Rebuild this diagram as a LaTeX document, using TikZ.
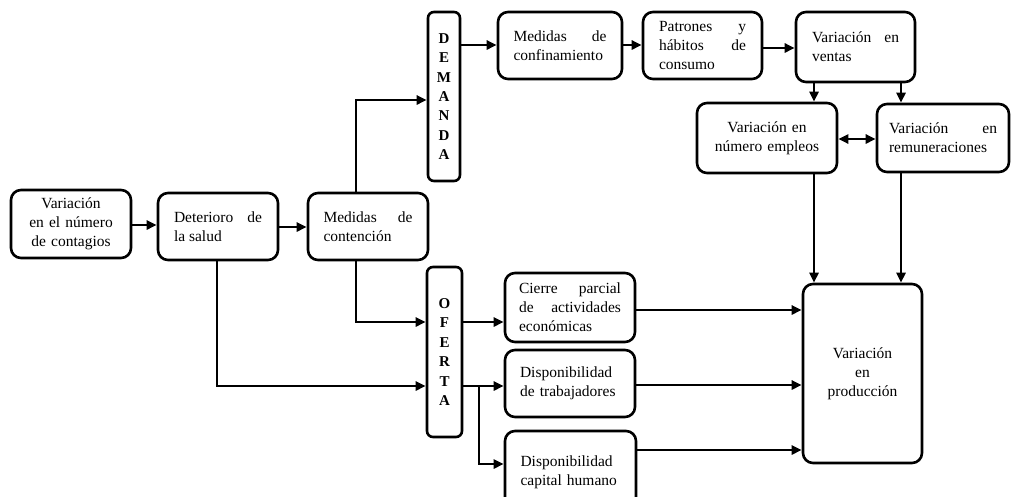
\documentclass[tikz,border=0pt]{standalone}
\usepackage{fontspec}
\setmainfont{Liberation Serif}
\usetikzlibrary{arrows.meta,calc}
\newcommand{\txtfont}{\fontsize{15.5}{19}\selectfont\hyphenpenalty=10000\exhyphenpenalty=10000\tolerance=10000\hbadness=10000 }
\newcommand{\letfont}{\fontsize{15}{19.4}\selectfont\bfseries}
\begin{document}
\begin{tikzpicture}[x=1pt,y=-1pt,
  box/.style={draw, line width=2.6pt, rounded corners=10pt, inner sep=0pt, font=\txtfont},
  jbox/.style={box, align=justify},
  cbox/.style={box, align=center},
  lbox/.style={box, align=left},
  vbox/.style={draw, line width=2.6pt, rounded corners=6pt, inner sep=0pt, align=center, font=\letfont},
  arr/.style={line width=2.6pt, -{Triangle[length=10pt,width=9pt]}},
  darr/.style={line width=2.6pt, {Triangle[length=10pt,width=9pt]}-{Triangle[length=10pt,width=9pt]}},
  ln/.style={line width=2.6pt}
]
\useasboundingbox (0,0) rectangle (1012,496);
\clip (0,0) rectangle (1012,496);

% nodes
\node[cbox, minimum width=120pt, minimum height=68pt, text width=110pt] (A) at (71,224) {Variación\\en el número\\de contagios};
\node[jbox, minimum width=120pt, minimum height=67pt, text width=88pt] (B) at (218,226.5) {Deterioro de\linebreak la salud};
\node[jbox, minimum width=120pt, minimum height=67pt, text width=89pt] (C) at (368,226.5) {Medidas de\linebreak contención};
\node[vbox, minimum width=32pt, minimum height=169pt] (D) at (444,96.5) {D\\E\\M\\A\\N\\D\\A};
\node[jbox, minimum width=124pt, minimum height=67pt, text width=93pt] (Conf) at (560,45.5) {Medidas de\linebreak confinamiento};
\node[jbox, minimum width=119pt, minimum height=67pt, text width=87pt] (Pat) at (702.5,45.5) {Patrones y\linebreak hábitos de\linebreak consumo};
\node[jbox, minimum width=119pt, minimum height=70pt, text width=87pt] (Ven) at (855.5,47) {Variación en\linebreak ventas};
\node[cbox, minimum width=140pt, minimum height=70pt, text width=130pt] (Emp) at (767,138) {Variación en\\número empleos};
\node[jbox, minimum width=132pt, minimum height=68pt, text width=108pt] (Rem) at (943,138) {Variación en\linebreak remuneraciones};
\node[cbox, minimum width=119pt, minimum height=179pt, text width=110pt] (Prod) at (862.5,373.5) {Variación\\en\\producción};
\node[vbox, minimum width=35pt, minimum height=170pt] (O) at (444.5,352) {O\\F\\E\\R\\T\\A};
\node[jbox, minimum width=130pt, minimum height=69pt, text width=102pt] (Cie) at (570,307.5) {Cierre parcial\linebreak de actividades\linebreak económicas};
\node[lbox, minimum width=130pt, minimum height=67pt, text width=100pt] (Tra) at (570,383.5) {Disponibilidad\\de trabajadores};
\node[lbox, minimum width=131pt, minimum height=82pt, text width=100pt] (Cap) at (570.5,472) {Disponibilidad\\capital humano};

% helper coordinates
\coordinate (up) at (356,100);
\coordinate (dn) at (356,322);
\coordinate (sal) at (217,386);
\coordinate (br) at (479,386);
\coordinate (xe) at (814,0);
\coordinate (xr) at (901,0);

% connectors
\draw[arr] (A.east |- 0,225) -- (B.west |- 0,225);
\draw[arr] (B.east |- 0,227) -- (C.west |- 0,227);
\draw[arr] (C.north -| up) -- (up) -- (D.west |- up);
\draw[arr] (D.east |- 0,45) -- (Conf.west |- 0,45);
\draw[arr] (Conf.east |- 0,45) -- (Pat.west |- 0,45);
\draw[arr] (Pat.east |- 0,48) -- (Ven.west |- 0,48);
\draw[arr] (Ven.south -| xe) -- (Emp.north -| xe);
\draw[arr] (Ven.south -| xr) -- (Rem.north -| xr);
\draw[darr] (Emp.east |- 0,139) -- (Rem.west |- 0,139);
\draw[arr] (Emp.south -| xe) -- (Prod.north -| xe);
\draw[arr] (Rem.south -| xr) -- (Prod.north -| xr);
\draw[arr] (C.south -| dn) -- (dn) -- (O.west |- dn);
\draw[arr] (B.south -| sal) -- (sal) -- (O.west |- sal);
\draw[arr] (O.east |- 0,322) -- (Cie.west |- 0,322);
\draw[arr] (O.east |- br) -- (Tra.west |- br);
\draw[arr] (br) |- (Cap.west |- 0,464);
\draw[arr] (Cie.east |- 0,310) -- (Prod.west |- 0,310);
\draw[arr] (Tra.east |- 0,385) -- (Prod.west |- 0,385);
\draw[arr] (Cap.east |- 0,450) -- (Prod.west |- 0,450);
\end{tikzpicture}
\end{document}
